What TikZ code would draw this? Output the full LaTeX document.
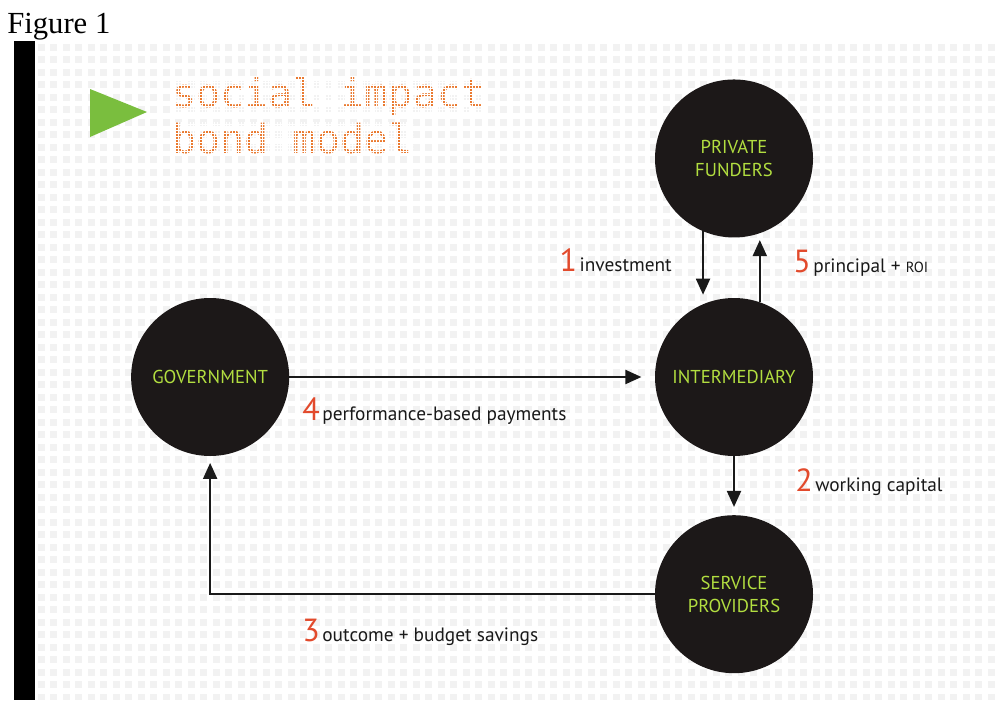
\documentclass[tikz,border=0pt]{standalone}
\usepackage{fontspec}
\setmainfont{PT Sans}
\newfontfamily\captionfont{Liberation Serif}
\newfontfamily\dotfont{DejaVu Sans Mono}
\usetikzlibrary{arrows.meta,positioning}
\definecolor{disc}{RGB}{28,24,24}
\definecolor{ink}{RGB}{25,25,25}
\definecolor{limetext}{RGB}{178,222,64}
\definecolor{stepred}{RGB}{226,74,44}
\definecolor{titleorange}{RGB}{234,122,48}
\definecolor{arrowgreen}{RGB}{122,190,62}
\definecolor{dotgrey}{RGB}{242,242,242}
\newcommand\stepno[1]{{\color{stepred}\fontsize{24}{24}\selectfont #1}\hspace{2pt}}

\begin{document}
\begin{tikzpicture}[x=0.75pt, y=-0.75pt, node distance=45pt and 274pt,
  party/.style={circle, fill=disc, minimum size=118.5pt, inner sep=0pt, align=center,
    text=limetext, font=\fontsize{14}{17}\selectfont},
  flow/.style={draw=ink, line width=1.5pt, -{Triangle[length=12pt,width=10.5pt]}},
  lbl/.style={anchor=base west, inner sep=0pt, text=ink, font=\fontsize{14.5}{16}\selectfont},
  headline/.style={anchor=base west, inner sep=0pt, text=titleorange, font=\dotfont\fontsize{30}{30}\selectfont}]
\useasboundingbox (0,0) rectangle (999,700);
\fill[white] (0,0) rectangle (999,700);

% dotted backdrop and the black strip on the left
\fill[dotgrey] (35,41) rectangle (999,700);
\foreach \i in {0,...,77} \draw[white, line width=3.8pt] ({35+12.5*\i},41) -- ++(0,659);
\foreach \j in {0,...,53} \draw[white, line width=3.8pt] (35,{41+12.5*\j}) -- ++(964,0);
\fill[black] (14,41) rectangle (35,700);

\node[anchor=base west, inner sep=0pt, font=\captionfont\fontsize{23}{23}\selectfont] (fig) at (7,33) {Figure 1};

% heading, each line broken up into dots by a fine white mesh
\fill[arrowgreen] (90,89) -- (147,112) -- (90,137) -- cycle;
\node[headline] (title1) at (172,107) {social impact};
\node[headline] (title2) at (172,153) {bond model};
\foreach \t in {title1,title2} {
  \begin{scope}
    \clip (\t.north west) rectangle (\t.south east);
    \foreach \i in {0,...,110} \draw[white, line width=0.6pt] ({172+3*\i},70) -- ++(0,100);
    \foreach \j in {0,...,33} \draw[white, line width=0.6pt] (165,{70+3*\j}) -- ++(340,0);
  \end{scope}
}

% parties
\node[party] (inter) at (734,377) {INTERMEDIARY};
\node[party, above=of inter] (funders) {PRIVATE\\FUNDERS};
\node[party, below=44pt of inter] (service) {SERVICE\\PROVIDERS};
\node[party, left=of inter] (gov) {GOVERNMENT};

% money and outcome flows
\draw[flow, shorten >=7pt] (funders.247) -- (inter.113);
\draw[flow, shorten >=5pt] (inter.71.5) -- (funders.-71.5);
\draw[flow, shorten >=6pt] (inter.south) -- (service.north);
\draw[flow, shorten >=5pt] (service.west) -| (gov.south);
\draw[flow, shorten >=10pt] (gov.east) -- (inter.west);

\node[lbl, anchor=base east] (l1) at (672,271) {\stepno{1}investment};
\node[lbl] (l2) at (795,491) {\stepno{2}working capital};
\node[lbl] (l3) at (302,641) {\stepno{3}outcome + budget savings};
\node[lbl] (l4) at (302,420) {\stepno{4}performance-based payments};
\node[lbl] (l5) at (793,272) {\stepno{5}principal + {\fontsize{11}{12}\selectfont ROI}};
\end{tikzpicture}
\end{document}
